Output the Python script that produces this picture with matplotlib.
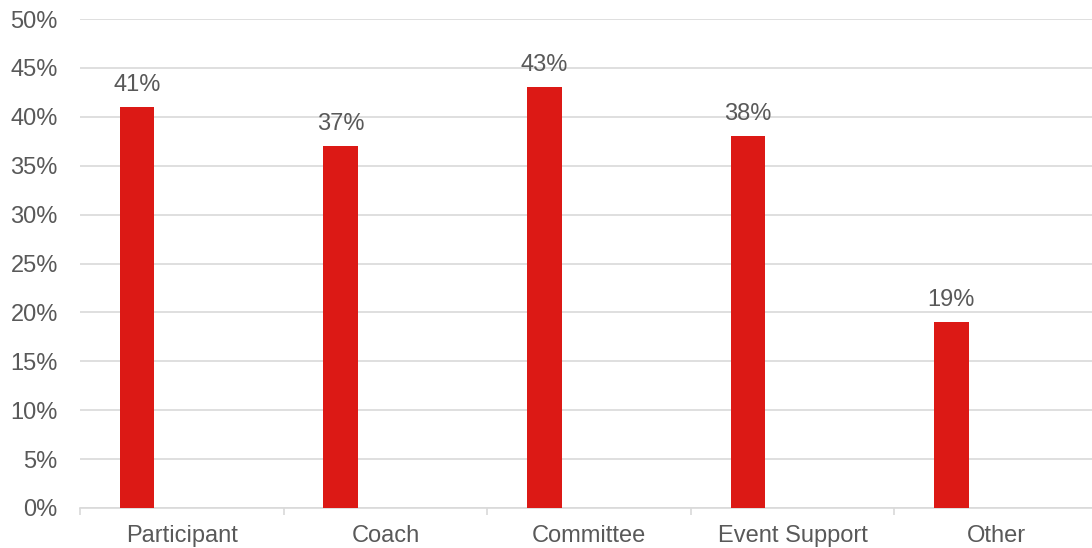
import matplotlib.pyplot as plt
from matplotlib.ticker import MultipleLocator, FuncFormatter, FixedLocator

plt.rcParams['font.family'] = ['Liberation Sans', 'DejaVu Sans']

categories = ['Participant', 'Coach', 'Committee', 'Event Support', 'Other']
values = [41, 37, 43, 38, 19]

bar_color = '#DC1915'
text_color = '#595959'
grid_color = '#D9D9D9'

fig = plt.figure(figsize=(10.92, 5.48), dpi=100)
# plot area: x 80..1098 px, y 19..508 px
ax = fig.add_axes([80 / 1092, 40 / 548, 1018 / 1092, 489 / 548])

n = len(categories)
# bar sits in left part of each slot (slot starts at i-0.5)
xs = [i - 0.5 + 0.28 for i in range(n)]
ax.bar(xs, values, width=0.17, color=bar_color, zorder=3)

for x, v in zip(xs, values):
    ax.annotate(f'{v}%', (x, v), xytext=(0, 11.5), textcoords='offset points',
                ha='center', va='baseline', fontsize=17, color=text_color)

ax.set_xlim(-0.5, n - 0.5)
ax.set_ylim(0, 50)
ax.yaxis.set_major_locator(MultipleLocator(5))
ax.yaxis.set_major_formatter(FuncFormatter(lambda v, p: f'{v:.0f}%'))
ax.grid(axis='y', color=grid_color, linewidth=1.2, zorder=0)

ax.set_xticks(range(n))
ax.set_xticklabels(categories)
ax.xaxis.set_minor_locator(FixedLocator([i - 0.5 for i in range(n + 1)]))
ax.tick_params(axis='x', which='major', length=0, pad=12.5, labelsize=17, labelcolor=text_color)
ax.tick_params(axis='x', which='minor', length=5, width=1.2, color=grid_color)
ax.tick_params(axis='y', length=0, pad=16, labelsize=17, labelcolor=text_color)

for s in ['top', 'right', 'left']:
    ax.spines[s].set_visible(False)
ax.spines['bottom'].set_color(grid_color)
ax.spines['bottom'].set_linewidth(1.2)

fig.savefig('out.png', dpi=100)
